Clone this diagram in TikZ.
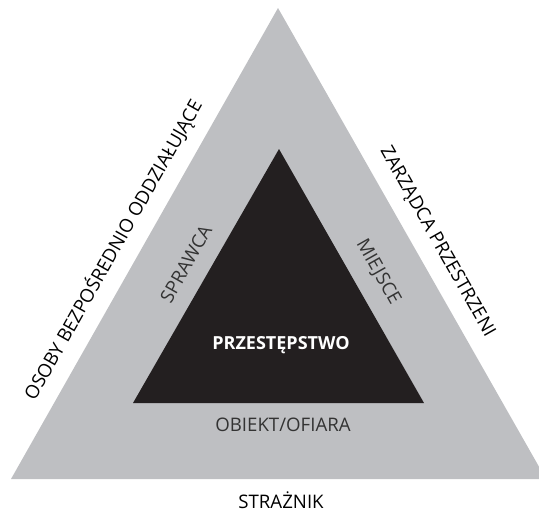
\documentclass[tikz,border=0pt]{standalone}
\usepackage{fontspec}
\setmainfont{Open Sans}
\definecolor{bandgray}{RGB}{190,191,194}
\definecolor{coreblack}{RGB}{35,31,32}
\begin{document}
\begin{tikzpicture}[
        x=0.75pt, y=-0.75pt,
        txt/.style={font=\fontsize{14}{16}\selectfont, inner sep=0pt, text=black},
        bandtxt/.style={txt, text=black!80},
        coretxt/.style={txt, font=\fontsize{13.5}{16}\selectfont\bfseries, text=white},
        band/.style={fill=bandgray},
        core/.style={fill=coreblack}
    ]
        \useasboundingbox (0,0) rectangle (539,512);

        % Outer triangle (cut by the right border)
        \begin{scope}
            \clip (0,0) rectangle (539,512);
            \fill[band] (11,479) coordinate (outL) -- (278,8) coordinate (outT) -- (546,479) coordinate (outR) -- cycle;
        \end{scope}

        % Inner triangle
        \fill[core] (133,403) coordinate (inL) -- (279,149) coordinate (inT) -- (424,403) coordinate (inR) -- cycle;
        \node[coretxt] (crime) at (281,345) {PRZESTĘPSTWO};

        % Labels inside the band
        \node[bandtxt, rotate=60.5] (offender) at (186,264) {SPRAWCA};
        \node[bandtxt, rotate=-60.5] (place) at (378,272) {MIEJSCE};
        \node[bandtxt] (target) at (283,425) {OBIEKT/OFIARA};

        % Labels outside
        \node[txt, rotate=60.5] (handler) at (113,250) {OSOBY BEZPOŚREDNIO ODDZIAŁUJĄCE};
        \node[txt, rotate=-60.5] (manager) at (437,242) {ZARZĄDCA PRZESTRZENI};
        \node[txt] (guardian) at (281,500) {STRAŻNIK};

    \end{tikzpicture}
\end{document}
